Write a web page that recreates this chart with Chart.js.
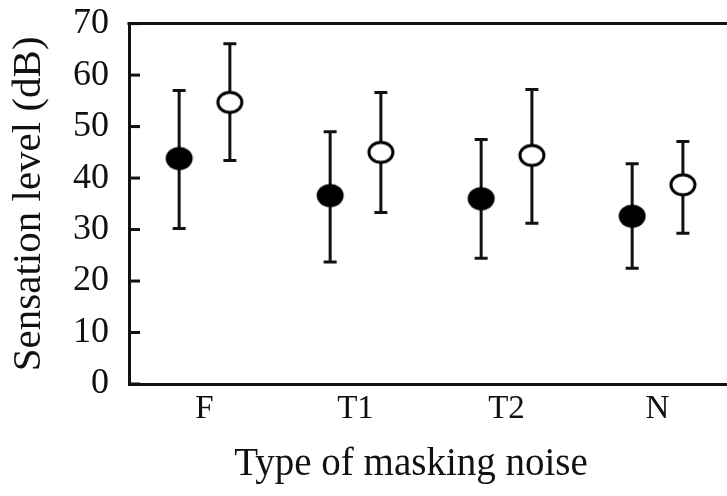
<!DOCTYPE html>
<html>
<head>
<meta charset="utf-8">
<script src="https://cdn.jsdelivr.net/npm/chart.js@4.4.1/dist/chart.umd.min.js"></script>
<style>
  html, body { margin: 0; padding: 0; background: #ffffff; overflow: hidden; width: 727px; height: 496px; }
  #wrap { width: 741px; height: 514px; position: relative; margin-top: -18px; }
</style>
</head>
<body>
<div id="wrap"><canvas id="c"></canvas></div>
<script>
// ---- data ----
const categories = ['F', 'T1', 'T2', 'N'];
const yTickValues = [0, 10, 20, 30, 40, 50, 60, 70];

// filled circles
const filledMean = [43.8, 36.6, 36.0, 32.6];
const filledHigh = [57.0, 49.0, 47.5, 42.8];
const filledLow  = [30.2, 23.7, 24.4, 22.5];

// open circles
const openMean = [54.7, 45.0, 44.4, 38.7];
const openHigh = [66.1, 56.6, 57.2, 47.1];
const openLow  = [43.4, 33.3, 31.2, 29.3];

const xTitle = 'Type of masking noise';
const yTitle = 'Sensation level (dB)';

// ---- styling helpers ----
const FONT = 'Liberation Serif';
const PAIR_OFFSET = 0.168;

function ellipseMarker(filled) {
  const w = 30, h = 26;
  const cv = document.createElement('canvas');
  cv.width = w; cv.height = h;
  const g = cv.getContext('2d');
  g.beginPath();
  if (filled) {
    g.ellipse(w / 2, h / 2, 13.5, 11.5, 0, 0, Math.PI * 2);
    g.fillStyle = '#000';
    g.fill();
  } else {
    g.ellipse(w / 2, h / 2, 12, 10, 0, 0, Math.PI * 2);
    g.fillStyle = '#fff';
    g.fill();
    g.lineWidth = 3;
    g.strokeStyle = '#000';
    g.stroke();
  }
  return cv;
}

function points(means, shift) {
  return means.map((m, i) => ({ x: i + shift, y: m }));
}

const errorSets = [
  { shift: -PAIR_OFFSET, hi: filledHigh, lo: filledLow },
  { shift: PAIR_OFFSET, hi: openHigh, lo: openLow }
];

const framePlugin = {
  id: 'frame',
  beforeDatasetsDraw(chart) {
    const { ctx, chartArea, scales } = chart;
    const xs = scales.x, ys = scales.y;
    ctx.save();
    ctx.strokeStyle = '#111';
    // top border
    ctx.lineWidth = 3;
    ctx.beginPath();
    ctx.moveTo(chartArea.left - 1.5, chartArea.top);
    ctx.lineTo(chart.width, chartArea.top);
    ctx.stroke();
    // inward y ticks
    yTickValues.forEach(v => {
      const py = ys.getPixelForValue(v);
      ctx.beginPath();
      ctx.moveTo(chartArea.left, py);
      ctx.lineTo(chartArea.left + 11, py);
      ctx.stroke();
    });
    // error bars
    errorSets.forEach(s => {
      categories.forEach((c, i) => {
        const px = xs.getPixelForValue(i + s.shift);
        const pyH = ys.getPixelForValue(s.hi[i]);
        const pyL = ys.getPixelForValue(s.lo[i]);
        ctx.beginPath();
        ctx.moveTo(px, pyH);
        ctx.lineTo(px, pyL);
        ctx.moveTo(px - 6.5, pyH);
        ctx.lineTo(px + 6.5, pyH);
        ctx.moveTo(px - 6.5, pyL);
        ctx.lineTo(px + 6.5, pyL);
        ctx.stroke();
      });
    });
    // x axis title
    ctx.fillStyle = '#111';
    ctx.font = '39px "' + FONT + '"';
    ctx.textAlign = 'center';
    ctx.textBaseline = 'alphabetic';
    ctx.fillText(xTitle, chartArea.left + 282, chartArea.bottom + 91);
    ctx.restore();
  }
};

new Chart(document.getElementById('c'), {
  type: 'scatter',
  data: {
    datasets: [
      {
        label: 'filled',
        data: points(filledMean, -PAIR_OFFSET),
        pointStyle: ellipseMarker(true),
        pointRadius: 13,
        pointHoverRadius: 13,
        showLine: false
      },
      {
        label: 'open',
        data: points(openMean, PAIR_OFFSET),
        pointStyle: ellipseMarker(false),
        pointRadius: 13,
        pointHoverRadius: 13,
        showLine: false
      }
    ]
  },
  options: {
    responsive: true,
    maintainAspectRatio: false,
    animation: false,
    events: [],
    layout: { padding: { top: 6, right: 0, bottom: 0, left: 0 } },
    plugins: {
      legend: { display: false },
      tooltip: { enabled: false }
    },
    scales: {
      x: {
        type: 'linear',
        min: -0.5,
        max: 3.46,
        afterBuildTicks: s => { s.ticks = categories.map((c, i) => ({ value: i })); },
        afterFit: s => { s.height = 112; },
        grid: { display: false, drawTicks: false },
        border: { display: true, color: '#111', width: 3 },
        ticks: {
          callback: v => categories[v],
          color: '#111',
          font: { family: FONT, size: 33 },
          padding: 6,
          maxRotation: 0,
          autoSkip: false
        },
        title: { display: false }
      },
      y: {
        type: 'linear',
        min: 0,
        max: 70,
        afterBuildTicks: s => { s.ticks = yTickValues.map(v => ({ value: v })); },
        afterFit: s => { s.width = 129; },
        grid: { display: false, drawTicks: false },
        border: { display: true, color: '#111', width: 3 },
        ticks: {
          color: '#111',
          font: { family: FONT, size: 36 },
          padding: 20
        },
        title: {
          display: true,
          text: yTitle,
          color: '#111',
          font: { family: FONT, size: 41 },
          padding: { top: 5, bottom: 0 }
        }
      }
    }
  },
  plugins: [framePlugin]
});
</script>
</body>
</html>
